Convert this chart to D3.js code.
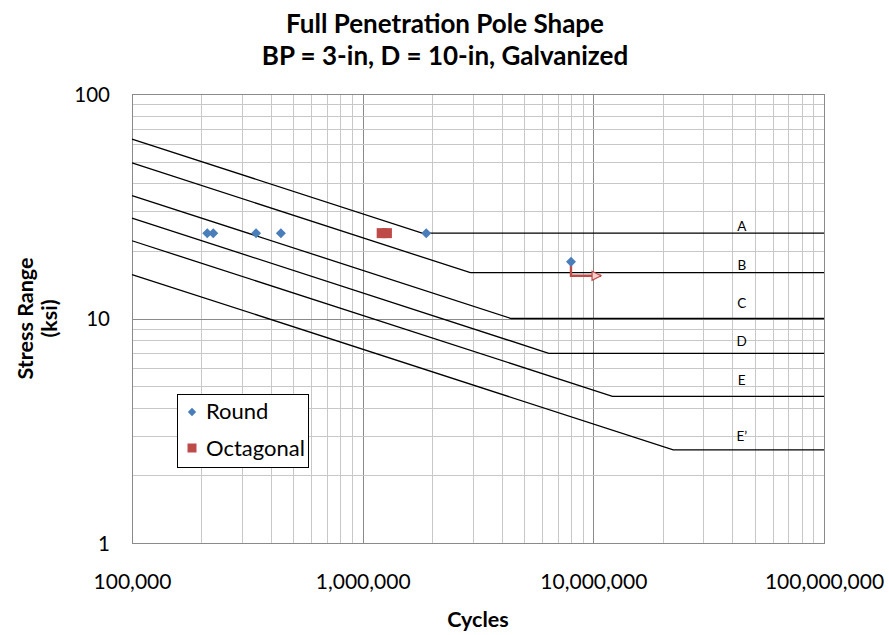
<!DOCTYPE html>
<html>
<head>
<meta charset="utf-8">
<script src="https://cdn.jsdelivr.net/npm/d3@7"></script>
<style>
  html, body { margin: 0; padding: 0; background: #fff; }
  svg { display: block; font-family: Lato, "Open Sans", sans-serif; }
</style>
</head>
<body>
<svg id="chart" width="889" height="635"></svg>
<script>
// ---- Data ----
const categories = ["A", "B", "C", "D", "E", "E\u2019"];
const startCycles = 1e5;
const endCycles = 1e8;
const startStress = [63.0, 49.3, 35.3, 28.0, 22.2, 15.7];      // ksi at 100,000 cycles
const kneeCycles = [1.81e6, 2.93e6, 4.4e6, 6.41e6, 1.21e7, 2.22e7];
const thresholdStress = [24, 16, 10, 7, 4.5, 2.6];             // CAFL, ksi
const labelCycles = 4.4e7;
const labelStress = [25.9, 17.35, 11.73, 7.92, 5.34, 2.99];

const roundCycles = [2.12e5, 2.25e5, 3.45e5, 4.42e5, 1.887e6, 8.0e6];
const roundStress = [24, 24, 24, 24, 24, 17.9];
const octCycles = [1.209e6, 1.274e6];
const octStress = [24, 24];
const runoutCycles = [8.0e6, 8.0e6, 1.08e7];
const runoutStress = [17.9, 15.5, 15.5];

const xTickValues = [1e5, 1e6, 1e7, 1e8];
const yTickValues = [1, 10, 100];
const titleLines = ["Full Penetration Pole Shape", "BP = 3-in, D = 10-in, Galvanized"];
const xTitle = "Cycles";
const yTitleLines = ["Stress Range", "(ksi)"];
const legendLabels = ["Round", "Octagonal"];

// ---- Layout ----
const svg = d3.select("#chart");
const m = { left: 132, top: 94, right: 824, bottom: 543 };
const x = d3.scaleLog().domain([1e5, 1e8]).range([m.left, m.right]);
const y = d3.scaleLog().domain([1, 100]).range([m.bottom, m.top]);
const blue = "#4a7ebb", red = "#be4b48";

// grid
const isMajor = v => Math.abs(Math.log10(v) - Math.round(Math.log10(v))) < 1e-9;
const grid = svg.append("g");
grid.selectAll("line.gx").data(x.ticks()).join("line")
  .attr("x1", d => Math.round(x(d)) + 0.5).attr("x2", d => Math.round(x(d)) + 0.5)
  .attr("y1", m.top).attr("y2", m.bottom)
  .attr("stroke", d => isMajor(d) ? "#8a8a8a" : "#c8c8c8").attr("stroke-width", 1);
grid.selectAll("line.gy").data(y.ticks()).join("line")
  .attr("y1", d => Math.round(y(d)) + 0.5).attr("y2", d => Math.round(y(d)) + 0.5)
  .attr("x1", m.left).attr("x2", m.right)
  .attr("stroke", d => isMajor(d) ? "#8a8a8a" : "#c8c8c8").attr("stroke-width", 1);
svg.append("rect").attr("x", m.left + 0.5).attr("y", m.top + 0.5)
  .attr("width", m.right - m.left).attr("height", m.bottom - m.top)
  .attr("fill", "none").attr("stroke", "#8a8a8a");

// axes (labels only)
const xAxis = svg.append("g").attr("transform", `translate(0,${m.bottom})`)
  .call(d3.axisBottom(x).tickValues(xTickValues).tickSize(0).tickPadding(0).tickFormat(d3.format(",")));
xAxis.select(".domain").remove();
xAxis.selectAll("text").attr("y", 46).attr("dy", null)
  .attr("font-family", "Lato").attr("font-size", 21).attr("fill", "#000");
const yAxis = svg.append("g").attr("transform", `translate(${m.left},0)`)
  .call(d3.axisLeft(y).tickValues(yTickValues).tickSize(0).tickPadding(0).tickFormat(d3.format("d")));
yAxis.select(".domain").remove();
yAxis.selectAll("text").attr("x", -22).attr("dy", "0.36em")
  .attr("font-family", "Lato").attr("font-size", 20.5).attr("fill", "#000");

// S-N lines
const line = d3.line().x(d => x(d[0])).y(d => y(d[1]));
const sn = categories.map((c, i) => [[startCycles, startStress[i]], [kneeCycles[i], thresholdStress[i]], [endCycles, thresholdStress[i]]]);
svg.append("g").selectAll("path").data(sn).join("path")
  .attr("d", line).attr("fill", "none").attr("stroke", "#000").attr("stroke-width", 1.3);
svg.append("g").selectAll("text").data(categories).join("text")
  .attr("x", x(labelCycles)).attr("y", (d, i) => y(labelStress[i]))
  .attr("dy", "0.36em").attr("text-anchor", "middle")
  .attr("font-size", 13.5).attr("fill", "#000").text(d => d);

// run-out arrow
const defs = svg.append("defs");
defs.append("marker").attr("id", "ah").attr("markerUnits", "userSpaceOnUse")
  .attr("markerWidth", 12).attr("markerHeight", 12).attr("refX", 10).attr("refY", 5.5)
  .attr("orient", "auto").attr("viewBox", "0 0 12 12")
  .append("path").attr("d", "M1,1 L10,5.5 L1,10 Z")
  .attr("fill", "#f8cfcf").attr("stroke", red).attr("stroke-width", 1.2);
svg.append("path").datum(runoutCycles.map((c, i) => [c, runoutStress[i]]))
  .attr("d", line).attr("fill", "none").attr("stroke", red).attr("stroke-width", 2.4)
  .attr("marker-end", "url(#ah)");

// points
const diamond = (cx, cy, r) => `M${cx},${cy - r}L${cx + r},${cy}L${cx},${cy + r}L${cx - r},${cy}Z`;
svg.append("g").selectAll("path").data(roundCycles).join("path")
  .attr("d", (d, i) => diamond(x(d), y(roundStress[i]), 5)).attr("fill", blue);
svg.append("g").selectAll("rect").data(octCycles).join("rect")
  .attr("x", (d) => x(d) - 5).attr("y", (d, i) => y(octStress[i]) - 5)
  .attr("width", 10).attr("height", 10).attr("fill", red);

// legend
const lg = svg.append("g");
lg.append("rect").attr("x", 177.5).attr("y", 394.5).attr("width", 131).attr("height", 73)
  .attr("fill", "#fff").attr("stroke", "#000").attr("stroke-width", 1);
lg.append("path").attr("d", diamond(192, 412, 4.2)).attr("fill", blue);
lg.append("rect").attr("x", 187.5).attr("y", 443.5).attr("width", 9).attr("height", 9).attr("fill", red);
lg.selectAll("text").data(legendLabels).join("text")
  .attr("x", 206).attr("y", (d, i) => i === 0 ? 419 : 456)
  .attr("font-size", 22).attr("fill", "#000").text(d => d);

// titles
svg.append("g").selectAll("text").data(titleLines).join("text")
  .attr("x", 445).attr("y", (d, i) => 33 + i * 32).attr("text-anchor", "middle")
  .attr("font-weight", "bold").attr("font-size", 26).attr("fill", "#000").text(d => d);
svg.append("text").attr("x", 478).attr("y", 627).attr("text-anchor", "middle")
  .attr("font-weight", "bold").attr("font-size", 21.5).attr("fill", "#000").text(xTitle);
svg.append("g").attr("transform", "translate(0,318.5) rotate(-90)")
  .selectAll("text").data(yTitleLines).join("text")
  .attr("x", 0).attr("y", (d, i) => 33 + i * 24).attr("text-anchor", "middle")
  .attr("font-weight", "bold").attr("font-size", 21.5).attr("fill", "#000").text(d => d);
</script>
</body>
</html>
